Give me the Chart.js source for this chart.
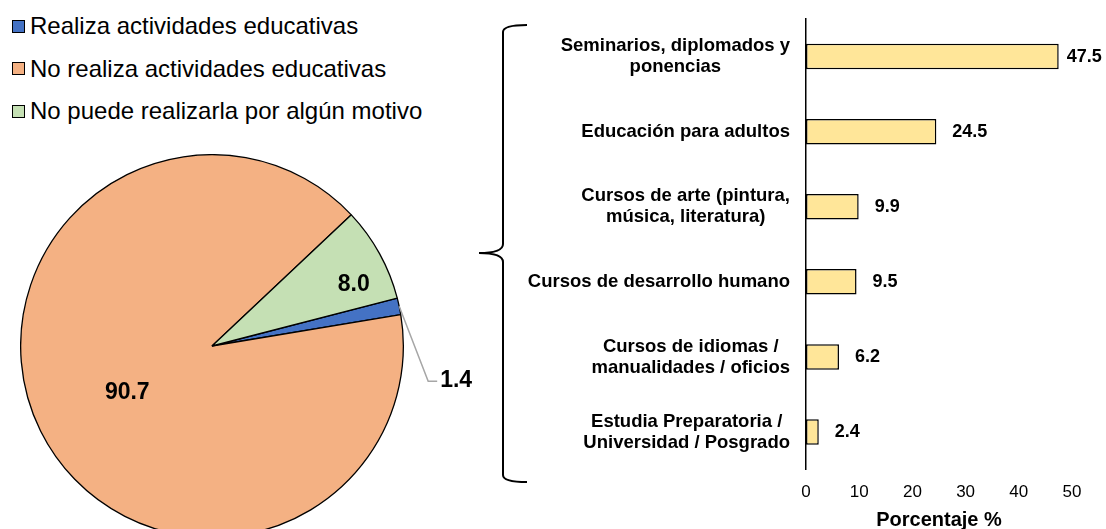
<!DOCTYPE html>
<html>
<head>
<meta charset="utf-8">
<script src="https://cdn.jsdelivr.net/npm/chart.js@4"></script>
<style>
  html, body { margin: 0; padding: 0; width: 1106px; height: 529px; overflow: hidden; background: #fff; }
  body { position: relative; font-family: "Liberation Sans", Arial, sans-serif; }
  #pieWrap { position: absolute; left: 20px; top: 154px; width: 470px; height: 384px; }
  #barWrap { position: absolute; left: 470px; top: 0; width: 636px; height: 537px; }
  #legend { position: absolute; left: 12px; top: 5px; }
  .item { display: flex; align-items: center; height: 42.5px; font-size: 24px; color: #000; }
  .box { width: 11px; height: 11px; border: 1px solid #000; margin-right: 5px; }
</style>
</head>
<body>
<div id="legend"></div>
<div id="pieWrap"><canvas id="pieChart"></canvas></div>
<div id="barWrap"><canvas id="barChart"></canvas></div>

<script>
// datos del pastel
const pieLabels = ['Realiza actividades educativas', 'No realiza actividades educativas', 'No puede realizarla por algún motivo'];
const pieValues = [1.4, 90.7, 8.0];
const pieColors = ['#4472C4', '#F4B183', '#C5E0B4'];

// datos de las barras
const barLabels = [
  ['Seminarios, diplomados y', 'ponencias'],
  ['Educación para adultos'],
  ['Cursos de arte (pintura,', 'música, literatura)'],
  ['Cursos de desarrollo humano'],
  ['Cursos de idiomas /', 'manualidades / oficios'],
  ['Estudia Preparatoria /', 'Universidad / Posgrado']
];
const barValues = [47.5, 24.5, 9.9, 9.5, 6.2, 2.4];
const xTicks = [0, 10, 20, 30, 40, 50];

const FONT = '"Liberation Sans", Arial, sans-serif';

// leyenda en html
const legend = document.getElementById('legend');
pieLabels.forEach((label, i) => {
  const div = document.createElement('div');
  div.className = 'item';
  const box = document.createElement('span');
  box.className = 'box';
  box.style.background = pieColors[i];
  div.appendChild(box);
  div.appendChild(document.createTextNode(label));
  legend.appendChild(div);
});

// etiquetas del pastel
const pieLabelPlugin = {
  id: 'pieLabels',
  afterDatasetsDraw(chart) {
    const ctx = chart.ctx;
    const meta = chart.getDatasetMeta(0);
    ctx.save();
    ctx.font = 'bold 23px ' + FONT;
    ctx.fillStyle = '#000';
    ctx.textBaseline = 'middle';
    meta.data.forEach((arc, i) => {
      const p = arc.getProps(['x', 'y', 'startAngle', 'endAngle', 'outerRadius'], true);
      const mid = (p.startAngle + p.endAngle) / 2;
      const text = pieValues[i].toFixed(1);
      if (i === 0) {
        // etiqueta con linea guia
        const ax = p.x + Math.cos(mid) * p.outerRadius;
        const ay = p.y + Math.sin(mid) * p.outerRadius;
        ctx.strokeStyle = '#a6a6a6';
        ctx.lineWidth = 1.5;
        ctx.beginPath();
        ctx.moveTo(ax, ay);
        ctx.lineTo(ax + 29, ay + 75);
        ctx.lineTo(ax + 38, ay + 75);
        ctx.stroke();
        ctx.textAlign = 'left';
        ctx.fillText(text, ax + 41, ay + 74);
      } else if (i === 1) {
        ctx.textAlign = 'center';
        ctx.fillText(text, p.x + Math.cos(mid) * p.outerRadius * 0.5 + 1, p.y + Math.sin(mid) * p.outerRadius * 0.5 + 4);
      } else {
        const a = mid + 5 * Math.PI / 180;
        ctx.textAlign = 'center';
        ctx.fillText(text, p.x + Math.cos(a) * p.outerRadius * 0.81, p.y + Math.sin(a) * p.outerRadius * 0.81 + 1);
      }
    });
    ctx.restore();
  }
};

new Chart(document.getElementById('pieChart'), {
  type: 'pie',
  data: {
    labels: pieLabels,
    datasets: [{
      data: pieValues,
      backgroundColor: pieColors,
      borderColor: '#000',
      borderWidth: 1.3
    }]
  },
  options: {
    responsive: true,
    maintainAspectRatio: false,
    animation: false,
    rotation: 75.5,
    layout: { padding: { right: 86 } },
    plugins: { legend: { display: false }, tooltip: { enabled: false } }
  },
  plugins: [pieLabelPlugin]
});

// etiquetas de categorias, valores y la llave
const barDecor = {
  id: 'barDecor',
  afterDraw(chart) {
    const ctx = chart.ctx;
    const area = chart.chartArea;
    const yScale = chart.scales.y;
    const meta = chart.getDatasetMeta(0);
    ctx.save();

    // categorias
    ctx.font = 'bold 18.5px ' + FONT;
    ctx.fillStyle = '#000';
    ctx.textAlign = 'center';
    ctx.textBaseline = 'middle';
    const right = area.left - 16;
    const lh = 21;
    barLabels.forEach((lines, i) => {
      const y = yScale.getPixelForTick(i);
      const w = Math.max(...lines.map(l => ctx.measureText(l).width));
      const cx = right - w / 2;
      const y0 = y - (lines.length - 1) * lh / 2;
      lines.forEach((l, j) => ctx.fillText(l, cx, y0 + j * lh));
    });

    // valores
    ctx.font = 'bold 18px ' + FONT;
    ctx.textAlign = 'left';
    meta.data.forEach((bar, i) => {
      const text = barValues[i].toFixed(1);
      const w = ctx.measureText(text).width;
      let x = bar.x + 16;
      if (x + w > chart.width - 2) x = bar.x + 8;
      ctx.fillText(text, x, bar.y);
    });

    // llave
    ctx.strokeStyle = '#000';
    ctx.lineWidth = 2;
    ctx.beginPath();
    ctx.moveTo(57, 25);
    ctx.quadraticCurveTo(33, 25, 33, 32);
    ctx.lineTo(33, 244);
    ctx.quadraticCurveTo(33, 253, 9, 253);
    ctx.moveTo(9, 253);
    ctx.quadraticCurveTo(33, 253, 33, 262);
    ctx.lineTo(33, 475);
    ctx.quadraticCurveTo(33, 482, 57, 482);
    ctx.stroke();
    ctx.restore();
  }
};

new Chart(document.getElementById('barChart'), {
  type: 'bar',
  data: {
    labels: barLabels,
    datasets: [{
      data: barValues,
      backgroundColor: '#FFE699',
      borderColor: '#000',
      borderWidth: 1.5,
      borderSkipped: false,
      barPercentage: 0.34,
      categoryPercentage: 1
    }]
  },
  options: {
    indexAxis: 'y',
    responsive: true,
    maintainAspectRatio: false,
    animation: false,
    layout: { padding: { left: 336, right: 34, top: 19, bottom: 0 } },
    scales: {
      x: {
        min: 0,
        max: 50,
        afterBuildTicks: scale => { scale.ticks = xTicks.map(v => ({ value: v })); },
        grid: { display: false, drawTicks: false },
        border: { display: false },
        ticks: { padding: 13, color: '#000', font: { family: FONT, size: 17 } },
        title: {
          display: true,
          text: 'Porcentaje %',
          color: '#000',
          font: { family: FONT, size: 20, weight: 'bold' },
          padding: { top: -8, bottom: 5 }
        }
      },
      y: {
        grid: { display: false, drawTicks: false },
        border: { display: true, color: '#000', width: 1.5 },
        ticks: { display: false }
      }
    },
    plugins: { legend: { display: false }, tooltip: { enabled: false } }
  },
  plugins: [barDecor]
});
</script>
</body>
</html>
